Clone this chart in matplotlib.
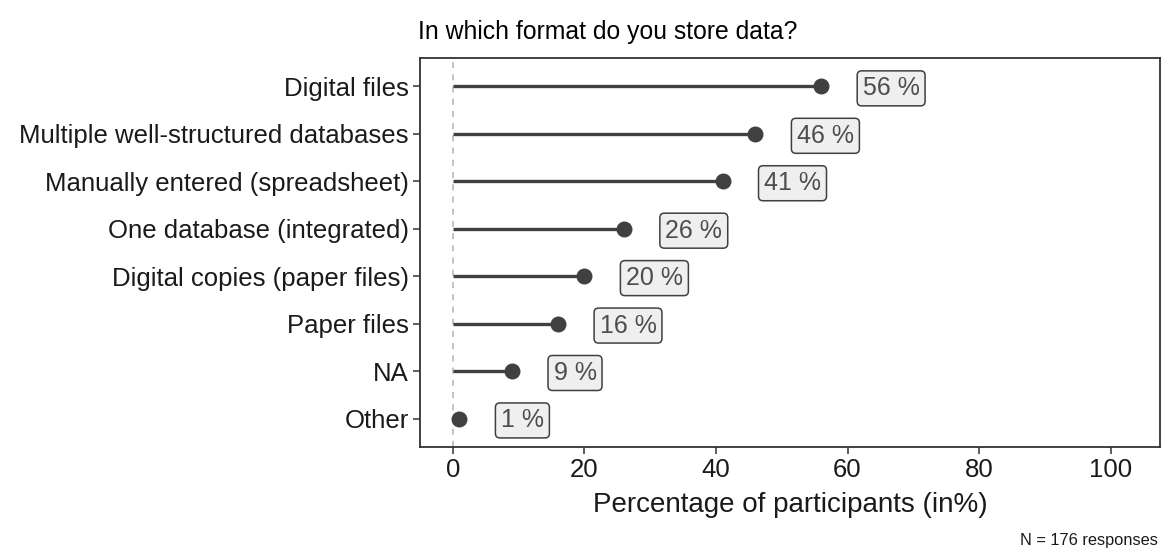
import matplotlib
matplotlib.use("Agg")
import matplotlib.pyplot as plt

plt.rcParams['font.family'] = ['Liberation Sans', 'DejaVu Sans']

categories = ['Digital files', 'Multiple well-structured databases',
              'Manually entered (spreadsheet)', 'One database (integrated)',
              'Digital copies (paper files)', 'Paper files', 'NA', 'Other']
percent = [56, 46, 41, 26, 20, 16, 9, 1]
labels = ['56 %', '46 %', '41 %', '26 %', '20 %', '16 %', '9 %', '1 %']

fig = plt.figure(figsize=(11.64, 5.53), dpi=100)
ax = fig.add_axes([420 / 1164, 1 - 447 / 553, 740 / 1164, 389 / 553])

n = len(categories)
ypos = [n - 1 - i for i in range(n)]

# dashed zero line, stems, dots
ax.axvline(0, color='#b3b3b3', linestyle=(0, (4, 4)), linewidth=1.1, zorder=1)
ax.hlines(ypos, 0, percent, color='#404040', linewidth=2.4, zorder=2)
ax.scatter(percent, ypos, s=110, color='#404040', zorder=3)

for y, v, lab in zip(ypos, percent, labels):
    ax.text(v + 6.3, y - 0.04, lab, ha='left', va='center', fontsize=18, color='#4d4d4d',
            bbox=dict(boxstyle='round,pad=0.22,rounding_size=0.18', facecolor='#efefef',
                      edgecolor='#404040', linewidth=1.1))

ax.set_xlim(-5, 107.5)
ax.set_ylim(-0.6, n - 0.4)
ax.set_xticks([0, 20, 40, 60, 80, 100])
ax.set_yticks(ypos)
ax.set_yticklabels(categories)
ax.tick_params(axis='both', labelsize=18.5, labelcolor='#1a1a1a', color='#333333',
               length=5, width=1.1, pad=3)

for sp in ax.spines.values():
    sp.set_color('#333333')
    sp.set_linewidth(1.3)

ax.set_xlabel('Percentage of participants (in%)', fontsize=20, color='#1a1a1a', labelpad=7)
fig.text(418 / 1164, 1 - 39 / 553, 'In which format do you store data?', fontsize=17.8,
         ha='left', va='baseline', color='black')
fig.text(1158 / 1164, 1 - 540 / 553, 'N = 176 responses', fontsize=11.8,
         ha='right', va='center', color='#1a1a1a')

fig.savefig('out.png', dpi=100)
